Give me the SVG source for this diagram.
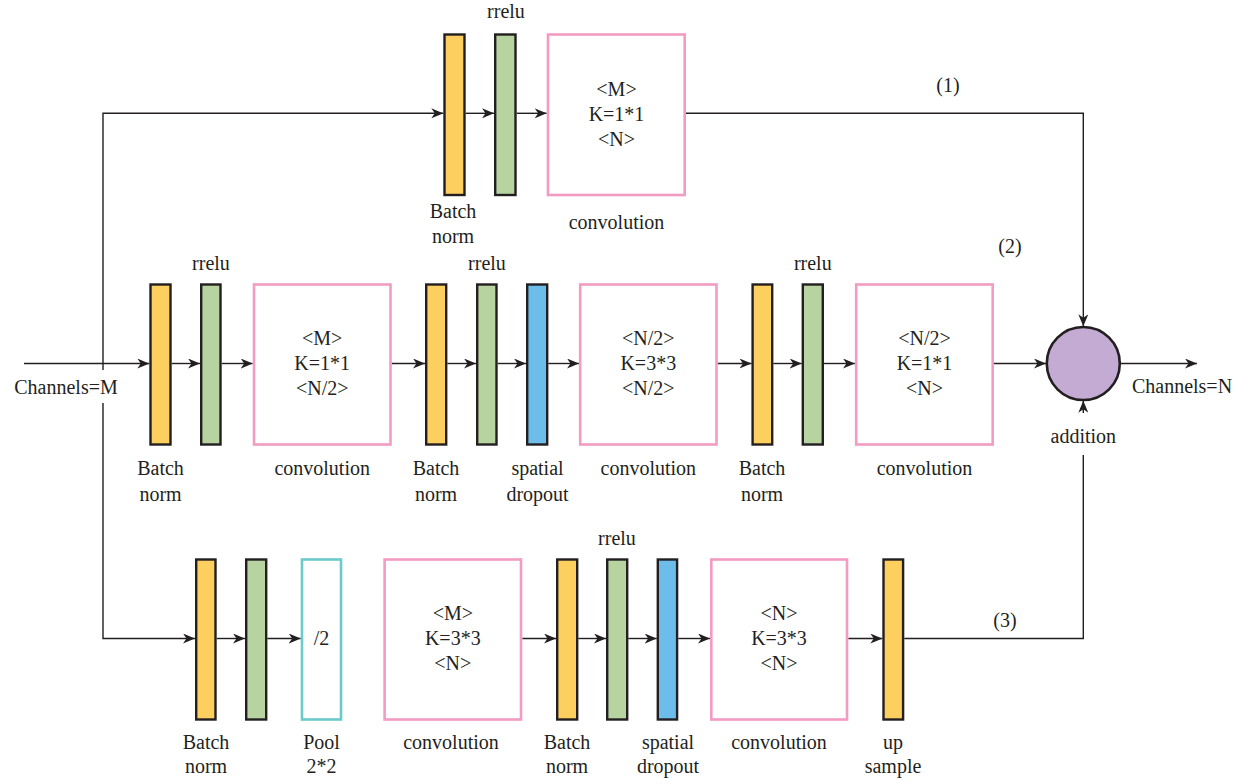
<svg xmlns="http://www.w3.org/2000/svg" width="1248" height="784" viewBox="0 0 1248 784">
  <defs>
    <marker id="arrow" viewBox="0 0 12 10" refX="12" refY="5" markerWidth="12" markerHeight="10" markerUnits="userSpaceOnUse" orient="auto">
      <path d="M0,0 L12,5 L0,10 L3.5,5 z" fill="#231F20"/>
    </marker>
    <style>
      text { font-family: "Liberation Serif", "Times New Roman", serif; font-size: 20px; fill: #231F20; text-anchor: middle; }
      .bn { fill: #FDCF5F; stroke: #231F20; stroke-width: 2.4; }
      .act { fill: #B6D3A0; stroke: #231F20; stroke-width: 2.4; }
      .drop { fill: #6CBDE9; stroke: #231F20; stroke-width: 2.4; }
      .conv { fill: #FFFFFF; stroke: #F39BC2; stroke-width: 2.6; }
      .pool { fill: #FFFFFF; stroke: #6ACBCB; stroke-width: 2.6; }
      .add { fill: #C3ABD3; stroke: #231F20; stroke-width: 2.6; }
      .wire { fill: none; stroke: #231F20; stroke-width: 1.4; }
      .arr { marker-end: url(#arrow); }
    </style>
  </defs>

  <rect width="1248" height="784" fill="#FFFFFF"/>

  <!-- connectors -->
  <g id="connectors">
    <!-- branch (1): shortcut 1x1 convolution -->
    <path class="wire arr" d="M103,370 V113.3 H443.3"/>
    <path class="wire arr" d="M465.7,113.3 H494"/>
    <path class="wire arr" d="M516.7,113.3 H546.7"/>
    <path class="wire arr" d="M686,113.3 H1083.3 V326.3"/>

    <!-- branch (2): bottleneck path -->
    <path class="wire arr" d="M24,363.5 H149.3"/>
    <path class="wire arr" d="M171.7,363.5 H200"/>
    <path class="wire arr" d="M221.7,363.5 H252.7"/>
    <path class="wire arr" d="M391.7,363.5 H425"/>
    <path class="wire arr" d="M447.3,363.5 H476"/>
    <path class="wire arr" d="M497.7,363.5 H526"/>
    <path class="wire arr" d="M548.3,363.5 H579"/>
    <path class="wire arr" d="M717.7,363.5 H751.5"/>
    <path class="wire arr" d="M773.3,363.5 H801.7"/>
    <path class="wire arr" d="M824,363.5 H855"/>
    <path class="wire arr" d="M994,363.5 H1046"/>
    <path class="wire arr" d="M1120.5,363.5 H1197"/>

    <!-- branch (3): pooled path -->
    <path class="wire arr" d="M103,403 V638.5 H195"/>
    <path class="wire arr" d="M216.7,638.5 H245"/>
    <path class="wire arr" d="M267.3,638.5 H300.7"/>
    <path class="wire arr" d="M522.3,638.5 H556"/>
    <path class="wire arr" d="M578.3,638.5 H606"/>
    <path class="wire arr" d="M628.3,638.5 H656.7"/>
    <path class="wire arr" d="M678.3,638.5 H710"/>
    <path class="wire arr" d="M848.3,638.5 H882.3"/>
    <path class="wire" d="M904.3,638.5 H1083.3 V455"/>
    <path class="wire arr" d="M1083.3,413 V400.7"/>
  </g>

  <!-- branch (1) nodes -->
  <g id="top-bn">
    <rect class="bn" x="444.5" y="34.5" width="20" height="160.5"/>
    <text x="453" y="218">Batch</text>
    <text x="453" y="243">norm</text>
  </g>
  <g id="top-rrelu">
    <rect class="act" x="495.2" y="34.5" width="20.3" height="160.5"/>
    <text x="506" y="18">rrelu</text>
  </g>
  <g id="top-conv">
    <rect class="conv" x="548" y="34.5" width="136.7" height="160.5"/>
    <text x="616.5" y="96">&lt;M&gt;</text>
    <text x="616.5" y="120.5">K=1*1</text>
    <text x="616.5" y="145.5">&lt;N&gt;</text>
    <text x="616.5" y="229">convolution</text>
  </g>

  <!-- branch (2) nodes -->
  <g id="mid-bn1">
    <rect class="bn" x="150.5" y="284.5" width="20" height="160"/>
    <text x="160.5" y="475">Batch</text>
    <text x="160.5" y="500.5">norm</text>
  </g>
  <g id="mid-rrelu1">
    <rect class="act" x="201.2" y="284.5" width="19.3" height="160"/>
    <text x="211" y="270">rrelu</text>
  </g>
  <g id="mid-conv1">
    <rect class="conv" x="254" y="284.5" width="136.5" height="160"/>
    <text x="322.2" y="344.5">&lt;M&gt;</text>
    <text x="322.2" y="370">K=1*1</text>
    <text x="322.2" y="395">&lt;N/2&gt;</text>
    <text x="322.2" y="475">convolution</text>
  </g>
  <g id="mid-bn2">
    <rect class="bn" x="426.2" y="284.5" width="20" height="160"/>
    <text x="436" y="475">Batch</text>
    <text x="436" y="500.5">norm</text>
  </g>
  <g id="mid-rrelu2">
    <rect class="act" x="477.2" y="284.5" width="19.3" height="160"/>
    <text x="487" y="270">rrelu</text>
  </g>
  <g id="mid-dropout">
    <rect class="drop" x="527.2" y="284.5" width="20" height="160"/>
    <text x="537.5" y="475">spatial</text>
    <text x="537.5" y="500.5">dropout</text>
  </g>
  <g id="mid-conv2">
    <rect class="conv" x="580.2" y="284.5" width="136.3" height="160"/>
    <text x="648.3" y="344.5">&lt;N/2&gt;</text>
    <text x="648.3" y="370">K=3*3</text>
    <text x="648.3" y="395">&lt;N/2&gt;</text>
    <text x="648.3" y="475">convolution</text>
  </g>
  <g id="mid-bn3">
    <rect class="bn" x="752.6" y="284.5" width="19.6" height="160"/>
    <text x="762" y="475">Batch</text>
    <text x="762" y="500.5">norm</text>
  </g>
  <g id="mid-rrelu3">
    <rect class="act" x="802.8" y="284.5" width="20" height="160"/>
    <text x="812.8" y="270">rrelu</text>
  </g>
  <g id="mid-conv3">
    <rect class="conv" x="856.2" y="284.5" width="136.5" height="160"/>
    <text x="924.5" y="344.5">&lt;N/2&gt;</text>
    <text x="924.5" y="370">K=1*1</text>
    <text x="924.5" y="395">&lt;N&gt;</text>
    <text x="924.5" y="475">convolution</text>
  </g>

  <!-- branch (3) nodes -->
  <g id="bot-bn1">
    <rect class="bn" x="196.2" y="559.5" width="19.3" height="160"/>
    <text x="206" y="749">Batch</text>
    <text x="206" y="773">norm</text>
  </g>
  <g id="bot-rrelu1">
    <rect class="act" x="246.2" y="559.5" width="20" height="160"/>
  </g>
  <g id="bot-pool">
    <rect class="pool" x="302" y="559.5" width="39" height="160"/>
    <text x="321.5" y="645">/2</text>
    <text x="321.5" y="749">Pool</text>
    <text x="321.5" y="773">2*2</text>
  </g>
  <g id="bot-conv1">
    <rect class="conv" x="384.6" y="559.5" width="136.4" height="160"/>
    <text x="452.8" y="619.5">&lt;M&gt;</text>
    <text x="452.8" y="645">K=3*3</text>
    <text x="452.8" y="669.5">&lt;N&gt;</text>
    <text x="451" y="749">convolution</text>
  </g>
  <g id="bot-bn2">
    <rect class="bn" x="557.2" y="559.5" width="20" height="160"/>
    <text x="567" y="749">Batch</text>
    <text x="567" y="773">norm</text>
  </g>
  <g id="bot-rrelu2">
    <rect class="act" x="607.2" y="559.5" width="20" height="160"/>
    <text x="617" y="545">rrelu</text>
  </g>
  <g id="bot-dropout">
    <rect class="drop" x="657.8" y="559.5" width="19.3" height="160"/>
    <text x="668" y="749">spatial</text>
    <text x="668" y="773">dropout</text>
  </g>
  <g id="bot-conv2">
    <rect class="conv" x="711.3" y="559.5" width="135.7" height="160"/>
    <text x="779" y="619.5">&lt;N&gt;</text>
    <text x="779" y="645">K=3*3</text>
    <text x="779" y="669.5">&lt;N&gt;</text>
    <text x="779" y="749">convolution</text>
  </g>
  <g id="bot-upsample">
    <rect class="bn" x="883.5" y="559.5" width="19.6" height="160"/>
    <text x="893" y="749">up</text>
    <text x="893" y="773">sample</text>
  </g>

  <!-- summation node -->
  <g id="addition">
    <circle class="add" cx="1083.3" cy="363.5" r="36.5"/>
    <text x="1083.3" y="443">addition</text>
  </g>

  <!-- input / output and branch numbers -->
  <g id="input">
    <text x="66" y="394">Channels=M</text>
  </g>
  <g id="output">
    <text x="1182" y="393">Channels=N</text>
  </g>
  <g id="branch-labels">
    <text x="948" y="92">(1)</text>
    <text x="1010" y="253">(2)</text>
    <text x="1005" y="627">(3)</text>
  </g>
</svg>
